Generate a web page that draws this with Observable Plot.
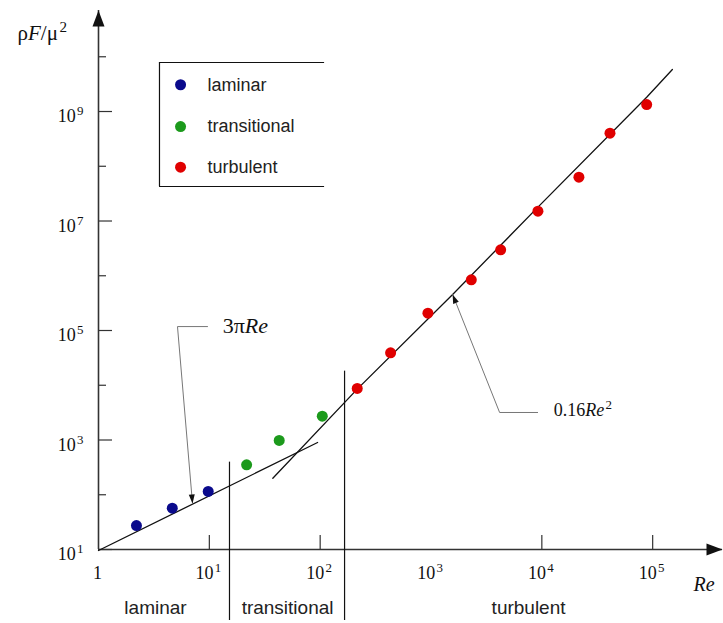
<!DOCTYPE html>
<html><head><meta charset="utf-8">
<script src="https://cdn.jsdelivr.net/npm/d3@7"></script>
<script src="https://cdn.jsdelivr.net/npm/@observablehq/plot@0.6"></script>
<style>body{margin:0;background:#fff}</style>
</head><body><div id="chart"></div>
<script>
// ---- data ----
const laminarRe = [2.2, 4.63, 9.77];
const laminarF  = [27.4, 56.8, 115];
const transRe   = [21.7, 42.7, 104.5];
const transF    = [352, 980, 2720];
const turbRe    = [216, 432, 938, 2310, 4250, 9220, 21600, 41200, 88300];
const turbF     = [8730, 39200, 2.07e5, 8.43e5, 2.98e6, 1.51e7, 6.31e7, 4.02e8, 1.34e9];

// model curves (3πRe and 0.16Re²)
const lamLineRe = [1, 94.8];
const lamLineF  = [9.6, 900];
const turbLineRe = [37.4, 216, 1567, 9220, 88300, 150600];
const turbLineF  = [200, 8500, 4.55e5, 1.79e7, 1.82e9, 5.85e9];

// regime boundaries
const boundaryRe  = [15.2, 166];
const boundaryTop = [394, 18100];

// axes
const xLabelValues = [1, 10, 100, 1000, 1e4, 1e5];
const xLabelTexts  = ["1", "10^1", "10^2", "10^3", "10^4", "10^5"];
const xTickValues  = [10, 100, 1e4, 1e5];
const yMajor = [10, 1e3, 1e5, 1e7, 1e9];
const yLabelTexts = ["10^1", "10^3", "10^5", "10^7", "10^9"];
const yMinor = [1e2, 1e4, 1e6, 1e8, 1e10];

const regimes = ["laminar", "transitional", "turbulent"];
const regimeLabelRe = [3.27, 50.8, 7590];
const legendF = [3.08e9, 5.32e8, 9.62e7];
const colors = ["#0a0a8c", "#1c9a1c", "#e00000"];

// annotations
const ann1Re = [9.63, 5.16, 7.05];
const ann1F  = [1.18e5, 1.18e5, 69.2];
const ann2Re = [9160, 4160, 1567];
const ann2F  = [3180, 3180, 4.55e5];

// ---- build ----
const xMin = 1, xMax = 10 ** 5.63, yMin = 10, yMax = 10 ** 10.845;
const pts = [
  ...laminarRe.map((r, i) => ({re: r, f: laminarF[i], c: colors[0]})),
  ...transRe.map((r, i) => ({re: r, f: transF[i], c: colors[1]})),
  ...turbRe.map((r, i) => ({re: r, f: turbF[i], c: colors[2]}))
];
const lamLine = lamLineRe.map((r, i) => ({re: r, f: lamLineF[i]}));
const turbLine = turbLineRe.map((r, i) => ({re: r, f: turbLineF[i]}));
const ann1 = ann1Re.map((r, i) => ({re: r, f: ann1F[i]}));
const ann2 = ann2Re.map((r, i) => ({re: r, f: ann2F[i]}));
const legend = regimes.map((name, i) => ({name, f: legendF[i], c: colors[i]}));

const serif = "Liberation Serif, Times New Roman, serif";
const sans = "Liberation Sans, Arial, sans-serif";
const axisColor = "#333";

const chart = Plot.plot({
  width: 723, height: 623,
  marginLeft: 98, marginRight: 1, marginTop: 10, marginBottom: 74,
  x: {type: "log", domain: [xMin, xMax], axis: null},
  y: {type: "log", domain: [yMin, yMax], axis: null},
  style: {background: "#fff", fontFamily: serif},
  marks: [
    // axes
    Plot.ruleY([yMin], {y: d => d, x1: xMin, x2: xMax, stroke: axisColor, strokeWidth: 1.6}),
    Plot.ruleX([xMin], {x: d => d, y1: yMin, y2: yMax, stroke: axisColor, strokeWidth: 1.6}),
    Plot.vector([{x: xMax, y: yMin}], {x: "x", y: "y", length: 16, r: 6, rotate: 90, shape: "spike", anchor: "end", fill: "#111", stroke: "none"}),
    Plot.vector([{x: xMin, y: yMax}], {x: "x", y: "y", length: 16, r: 6, rotate: 0, shape: "spike", anchor: "end", fill: "#111", stroke: "none"}),
    Plot.ruleX(xTickValues, {x: d => d, y1: yMin, y2: yMin, insetTop: -14, stroke: axisColor, strokeWidth: 1.2}),
    Plot.ruleY(yMajor, {y: d => d, x1: xMin, x2: xMin, insetRight: -14, stroke: axisColor, strokeWidth: 1.2}),
    Plot.ruleY(yMinor, {y: d => d, x1: xMin, x2: xMin, insetRight: -8, stroke: axisColor, strokeWidth: 1.2}),
    Plot.text(xLabelValues, {x: d => d, y: yMin, text: (d, i) => xLabelTexts[i], dy: 24, dx: -1, fontSize: 18, fontFamily: serif, fill: "#111"}),
    Plot.text(yMajor, {x: xMin, y: d => d, text: (d, i) => yLabelTexts[i], textAnchor: "end", dx: -15, dy: 5, fontSize: 18, fontFamily: serif, fill: "#111"}),
    Plot.text([{re: 0.186, f: 2.66e10}], {x: "re", y: "f", text: () => "ρ*F*/μ^2", textAnchor: "start", fontSize: 21, fontFamily: serif, fill: "#111"}),
    Plot.text([{re: 234000, f: 2.3}], {x: "re", y: "f", text: () => "*Re*", textAnchor: "start", fontSize: 20, fontFamily: serif, fill: "#111"}),

    // regime boundaries and labels
    Plot.ruleX(boundaryRe, {x: d => d, y1: 0.505, y2: (d, i) => boundaryTop[i], stroke: "#111", strokeWidth: 1.2}),
    Plot.text(regimes, {x: (d, i) => regimeLabelRe[i], y: yMin, text: d => d, dy: 58, fontSize: 19, fontFamily: sans, fill: "#222"}),

    // model curves
    Plot.line(lamLine, {x: "re", y: "f", stroke: "#111", strokeWidth: 1.3}),
    Plot.line(turbLine, {x: "re", y: "f", stroke: "#111", strokeWidth: 1.3}),

    // annotations
    Plot.line(ann1, {x: "re", y: "f", stroke: "#777", strokeWidth: 1}),
    Plot.vector([ann1[2]], {x: "re", y: "f", length: 9, r: 3, rotate: 175.2, shape: "spike", anchor: "end", fill: "#111", stroke: "none"}),
    Plot.text([{re: 13.2, f: 1.23e5}], {x: "re", y: "f", text: () => "3π*Re*", textAnchor: "start", fontSize: 22, fontFamily: serif, fill: "#111"}),
    Plot.line(ann2, {x: "re", y: "f", stroke: "#777", strokeWidth: 1}),
    Plot.vector([ann2[2]], {x: "re", y: "f", length: 9, r: 3, rotate: -21.7, shape: "spike", anchor: "end", fill: "#111", stroke: "none"}),
    Plot.text([{re: 12790, f: 3460}], {x: "re", y: "f", text: () => "0.16*Re*^2", textAnchor: "start", fontSize: 18, fontFamily: serif, fill: "#111"}),

    // data
    Plot.dot(pts, {x: "re", y: "f", r: 5.5, fill: "c", stroke: "none"}),

    // legend box (open on the right)
    Plot.ruleY([7.85e9, 4.27e7], {y: d => d, x1: 3.55, x2: 109.6, stroke: "#111", strokeWidth: 1.2}),
    Plot.ruleX([3.55], {x: d => d, y1: 4.27e7, y2: 7.85e9, stroke: "#111", strokeWidth: 1.2}),
    Plot.dot(legend, {x: () => 5.5, y: "f", r: 5.5, fill: "c", stroke: "none"}),
    Plot.text(legend, {x: () => 9.63, y: "f", text: "name", textAnchor: "start", fontSize: 18, fontFamily: sans, fill: "#222"})
  ]
});

// turn "*x*" into italics and "^n" into a superscript
d3.select(chart).selectAll("text").each(function () {
  const t = this.textContent;
  if (!/[\^*]/.test(t)) return;
  const [main, sup] = t.split("^");
  const sel = d3.select(this);
  sel.text(null);
  main.split("*").forEach((s, i) => {
    if (!s) return;
    const ts = sel.append("tspan").text(s);
    if (i % 2) ts.attr("font-style", "italic");
  });
  if (sup !== undefined) sel.append("tspan").attr("font-size", "0.72em").attr("dy", "-0.55em").attr("dx", "0.1em").text(sup);
});

document.getElementById("chart").appendChild(chart);
</script>
</body></html>
